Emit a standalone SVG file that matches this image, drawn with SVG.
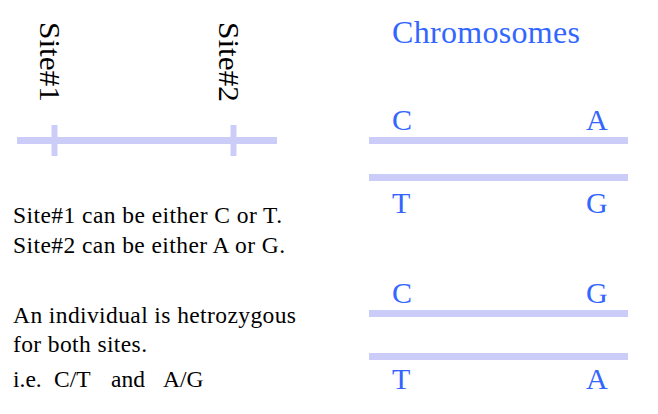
<svg xmlns="http://www.w3.org/2000/svg" width="658" height="414" viewBox="0 0 658 414">
<style>
.ln{stroke:#ccccf8;stroke-width:7;fill:none}
.tk{stroke:#ccccf8;stroke-width:6;fill:none}
.blk{font-family:"Liberation Serif","Times New Roman",serif;fill:#000}
.body{font-size:23.5px}
.site{font-size:30px}
.blu{font-family:"Liberation Serif","Times New Roman",serif;fill:#3366ff;font-size:30px}
.ttl{font-size:32px}
</style>
<rect width="658" height="414" fill="#fff"/>
<g id="sites">
<line class="ln" x1="17" y1="140.5" x2="277" y2="140.5"/>
<line class="tk" x1="54.5" y1="125" x2="54.5" y2="156"/>
<line class="tk" x1="233.5" y1="125" x2="233.5" y2="156"/>
<text class="blk site" transform="translate(40,22) rotate(90)" textLength="80" lengthAdjust="spacingAndGlyphs">Site#1</text>
<text class="blk site" transform="translate(219,22) rotate(90)" textLength="80" lengthAdjust="spacingAndGlyphs">Site#2</text>
</g>
<g id="description">
<text class="blk body" x="13" y="223" textLength="269">Site#1 can be either C or T.</text>
<text class="blk body" x="13" y="253" textLength="272">Site#2 can be either A or G.</text>
<text class="blk body" x="13" y="323" textLength="283">An individual is hetrozygous</text>
<text class="blk body" x="13" y="352" textLength="134">for both sites.</text>
<text class="blk body" y="387"><tspan x="13">i.e.</tspan><tspan x="54">C/T</tspan><tspan x="111">and</tspan><tspan x="163">A/G</tspan></text>
</g>
<g id="chromosomes">
<text class="blu ttl" x="392" y="43" textLength="188">Chromosomes</text>
<line class="ln" x1="369" y1="140.5" x2="628" y2="140.5"/>
<line class="ln" x1="369" y1="177.5" x2="628" y2="177.5"/>
<line class="ln" x1="369" y1="313.5" x2="628" y2="313.5"/>
<line class="ln" x1="369" y1="356.5" x2="628" y2="356.5"/>
<text class="blu" x="392" y="130">C</text>
<text class="blu" x="586" y="130">A</text>
<text class="blu" x="392" y="213">T</text>
<text class="blu" x="586" y="213">G</text>
<text class="blu" x="392" y="303">C</text>
<text class="blu" x="586" y="303">G</text>
<text class="blu" x="392" y="389">T</text>
<text class="blu" x="586" y="389">A</text>
</g>
</svg>
